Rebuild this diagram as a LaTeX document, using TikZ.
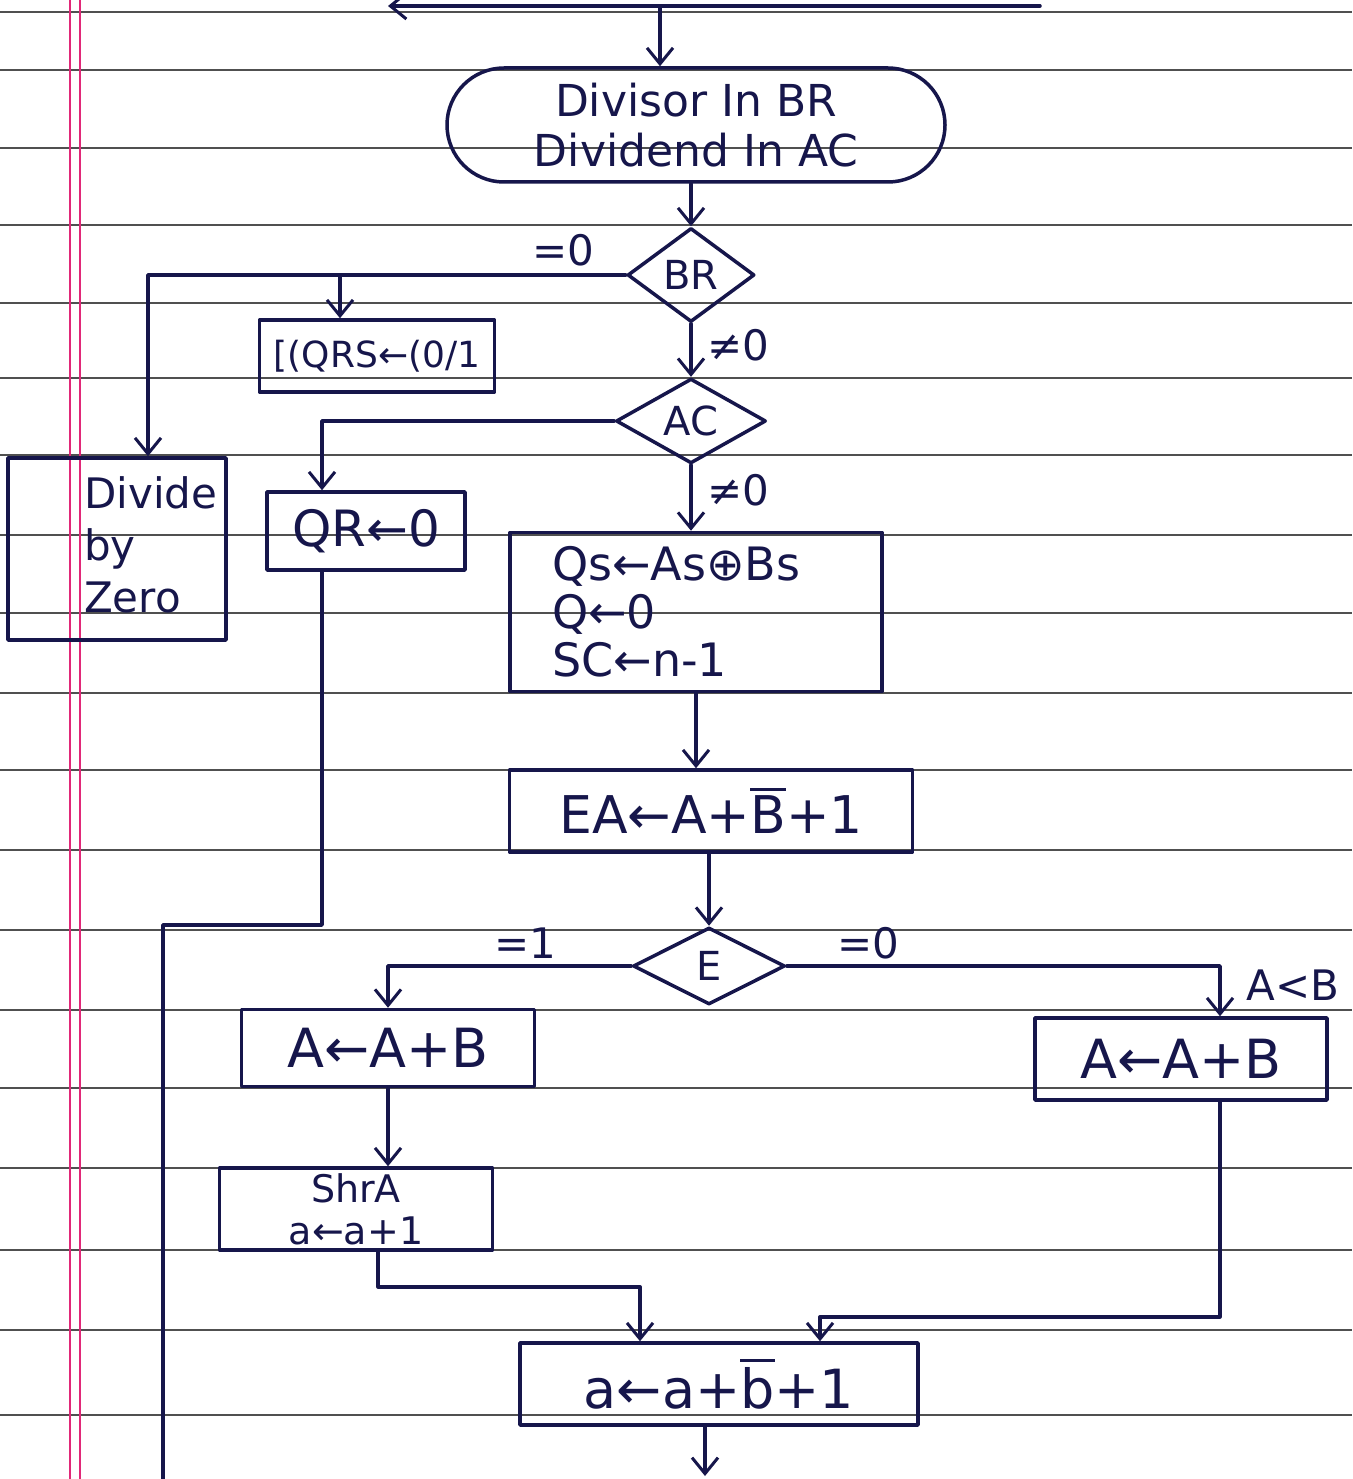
\documentclass[tikz,border=0pt]{standalone}
\usepackage{fontspec}
\setmainfont{DejaVu Sans}
\usetikzlibrary{arrows.meta,shapes.geometric,shapes.misc,calc}
\definecolor{ink}{RGB}{22,22,75}
\definecolor{ruleline}{RGB}{80,80,80}
\definecolor{marginpink}{RGB}{225,40,120}
\newcommand\ovl[1]{\setbox0\hbox{#1}\rlap{\raise\dimexpr\ht0+5pt\relax\hbox{\rule{\wd0}{3pt}}}\copy0}
\begin{document}
\begin{tikzpicture}[x=1pt,y=-1pt,
  inkline/.style={draw=ink,line width=3.5pt,line join=round},
  box/.style={inkline,rectangle,inner sep=0pt,text=ink},
  dia/.style={inkline,diamond,inner sep=0pt,text=ink,font=\fontsize{40}{44}\selectfont},
  term/.style={inkline,rounded rectangle,inner sep=0pt,text=ink,align=center},
  flow/.style={draw=ink,line width=3.5pt,line join=round,line cap=round,-{Straight Barb[length=16pt,width=26pt,line width=3pt]}},
  link/.style={draw=ink,line width=3.5pt,line join=round,line cap=round},
  lab/.style={text=ink,inner sep=0pt,font=\fontsize{42}{46}\selectfont},
  rl/.style={draw=ruleline,line width=1.6pt}
]
\useasboundingbox (0,0) rectangle (1352,1479);
\fill[white] (0,0) rectangle (1352,1479);
% ruled paper
\foreach \yy in {12,70,148,225,303,378,455,535,613,693,770,850,930,1010,1088,1168,1250,1330,1415}
  \draw[rl] (0,\yy) -- (1352,\yy);
\draw[marginpink,line width=2.5pt] (70,0) -- (70,1479);
\draw[marginpink,line width=2.5pt] (80,0) -- (80,1479);

% nodes
\node[term,minimum width=498pt,minimum height=114pt,font=\fontsize{44}{50}\selectfont] (term) at (696,125) {Divisor In BR\\Dividend In AC};
\node[dia,minimum width=127pt,minimum height=94pt] (br) at (691,275) {BR};
\node[box,minimum width=235pt,minimum height=72pt,font=\fontsize{36}{40}\selectfont] (qrs) at (377,356) {[(QRS←(0/1};
\node[dia,minimum width=150pt,minimum height=82pt] (ac) at (691,421) {AC};
\node[box,minimum width=218pt,minimum height=182pt] (dbz) at (117,549) {};
\node[lab,anchor=west,align=left,font=\fontsize{42}{52}\selectfont] (dbzt) at (84,545) {Divide\\by\\Zero};
\node[box,minimum width=198pt,minimum height=78pt,font=\fontsize{50}{54}\selectfont] (qr0) at (366,531) {QR←0};
\node[box,minimum width=372pt,minimum height=159pt] (b3) at (696,612) {};
\node[lab,anchor=west,align=left,font=\fontsize{46}{48}\selectfont] (b3t) at (552,612) {Qs←As⊕Bs\\Q←0\\SC←n-1};
\node[box,minimum width=403pt,minimum height=82pt,font=\fontsize{52}{56}\selectfont] (b4) at (711,811) {EA←A+\ovl{B}+1};
\node[dia,minimum width=152pt,minimum height=77pt] (e) at (709,966) {E};
\node[box,minimum width=293pt,minimum height=77pt,font=\fontsize{54}{58}\selectfont] (b5) at (388,1048) {A←A+B};
\node[box,minimum width=292pt,minimum height=82pt,font=\fontsize{54}{58}\selectfont] (b6) at (1181,1059) {A←A+B};
\node[box,minimum width=273pt,minimum height=82pt,align=center,font=\fontsize{38}{42}\selectfont] (b7) at (356,1209) {ShrA\\a←a+1};
\node[box,minimum width=398pt,minimum height=82pt,font=\fontsize{54}{58}\selectfont] (b8) at (719,1384) {a←a+\ovl{b}+1};

% labels
\node[lab] (l1) at (563,250) {=0};
\node[lab] (l2) at (738,345) {≠0};
\node[lab] (l3) at (738,490) {≠0};
\node[lab] (l4) at (525,943) {=1};
\node[lab] (l5) at (868,943) {=0};
\node[lab] (l6) at (1293,985) {A<B};

% coordinates
\coordinate (topR) at (1040,6);
\coordinate (topL) at (388,6);
\coordinate (topA) at (660,8);
\coordinate (j1) at (340,275);
\coordinate (c1) at (163,925);
\coordinate (c2) at (163,1479);
\coordinate (bot) at (705,1476);

% connectors
\draw[flow] (topR) -- (topL);
\draw[flow] (topA) -- (topA |- term.north);
\draw[flow] (br.north |- term.south) -- (br.north);
\draw[flow] (br.west) -| ([xshift=31pt]dbz.north);
\draw[flow] (j1) -- (j1 |- qrs.north);
\draw[flow] (br.south) -- (ac.north);
\draw[flow] (ac.west) -| ([xshift=-44pt]qr0.north);
\draw[flow] (ac.south) -- (ac.south |- b3.north);
\draw[link] ([xshift=-44pt]qr0.south) |- (c1) -- (c2);
\draw[flow] (b3.south) -- (b3.south |- b4.north);
\draw[flow] (b4.south -| e.north) -- (e.north);
\draw[flow] (e.west) -| (b5.north);
\draw[flow] (e.east) -| ([xshift=39pt]b6.north);
\draw[flow] (b5.south) -- (b5.south |- b7.north);
\draw[flow] ([xshift=22pt]b7.south) -- ++(0,35) -| ([xshift=-79pt]b8.north);
\draw[flow] ([xshift=39pt]b6.south) -- ++(0,215) -| ([xshift=101pt]b8.north);
\draw[flow] (b8.south -| bot) -- (bot);
\end{tikzpicture}
\end{document}
